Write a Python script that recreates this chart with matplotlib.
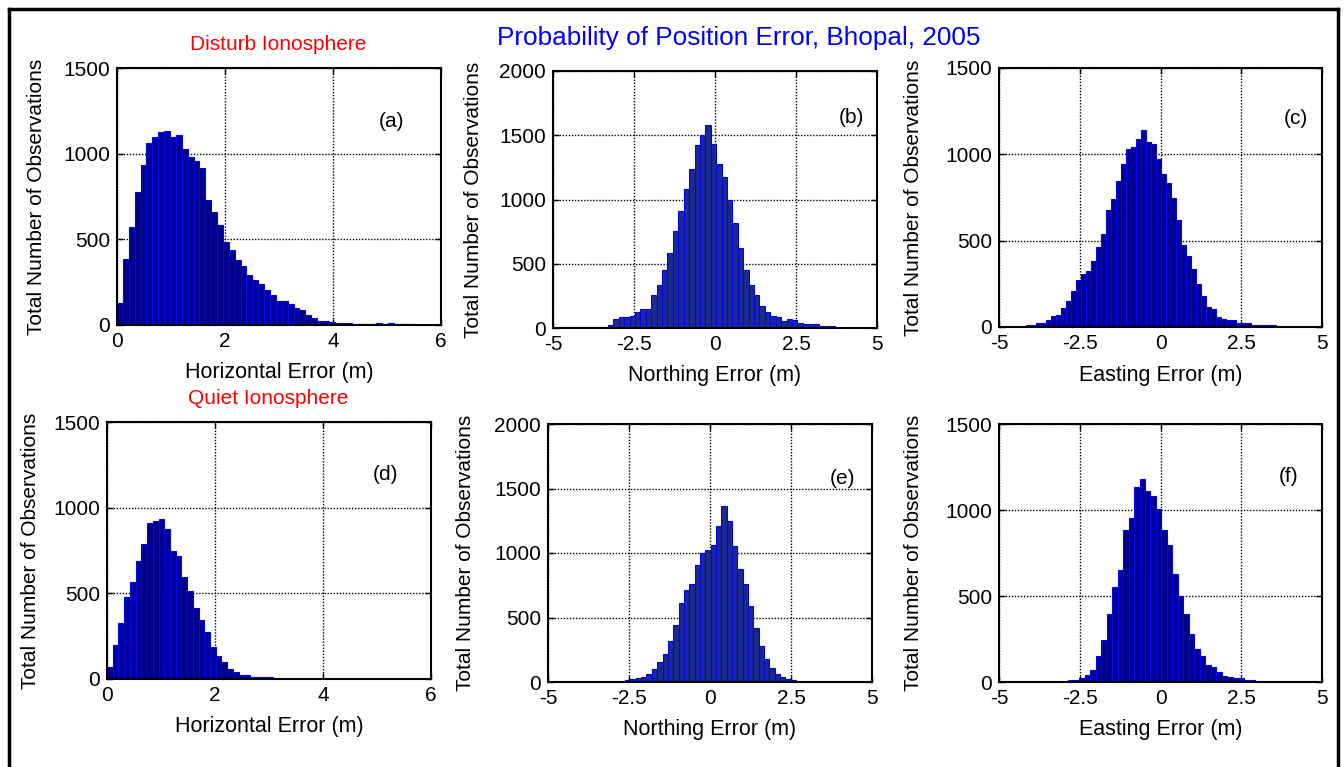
import numpy as np
import matplotlib
matplotlib.use("Agg")
import matplotlib.pyplot as plt
from matplotlib.lines import Line2D

plt.rcParams["font.family"] = ["Liberation Sans", "DejaVu Sans"]
plt.rcParams["axes.unicode_minus"] = False

# histogram counts (first bin edge, bin width, counts)
a_start, a_width = 0.0, 0.109
a_counts = [131, 384, 573, 776, 932, 1062, 1098, 1124, 1131, 1098,
            1110, 1030, 982, 957, 915, 730, 662, 583, 483, 435,
            382, 347, 290, 261, 238, 203, 178, 140, 140, 120,
            102, 89, 60, 42, 23, 23, 15, 12, 10, 10,
            8, 6, 8, 4, 10, 8, 10, 6, 5, 8]

b_start, b_width = -4.64, 0.167
b_counts = [10, 10, 10, 10, 10, 10, 10, 10, 26, 70,
            85, 85, 96, 122, 150, 150, 254, 332, 448, 583,
            751, 912, 1083, 1241, 1422, 1500, 1580, 1435, 1277, 1174,
            1000, 816, 619, 448, 332, 254, 174, 122, 96, 83,
            52, 70, 60, 39, 31, 31, 31, 13, 13, 13]

c_start, c_width = -4.17, 0.155
c_counts = [10, 10, 23, 23, 42, 62, 71, 110, 151, 208,
            270, 305, 324, 384, 463, 541, 676, 739, 846, 942,
            1031, 1042, 1091, 1139, 1073, 1062, 971, 884, 836, 747,
            618, 473, 413, 336, 247, 180, 116, 106, 58, 44,
            42, 42, 25, 23, 23, 14, 10, 10, 10, 10]

d_start, d_width = 0.0, 0.106
d_counts = [68, 196, 324, 480, 569, 689, 786, 913, 922, 934,
            876, 748, 718, 598, 511, 414, 346, 276, 186, 132,
            97, 58, 43, 25, 21, 14, 12, 10, 10, 8]

e_start, e_width = -2.62, 0.165
e_counts = [13, 26, 31, 39, 65, 103, 155, 220, 318, 444,
            612, 711, 762, 904, 1000, 1021, 1065, 1207, 1364, 1245,
            1052, 879, 762, 587, 421, 279, 181, 109, 65, 39,
            23, 13]

f_start, f_width = -2.86, 0.170
f_counts = [14, 14, 23, 43, 72, 149, 246, 397, 552, 652,
            886, 954, 1136, 1181, 1113, 1084, 1003, 886, 797, 629,
            501, 393, 277, 190, 149, 101, 87, 58, 33, 29,
            23, 23, 14, 14]

horiz_ticks = [0, 2, 4, 6]
ne_ticks = [-5, -2.5, 0, 2.5, 5]
ne_ticklabels = ["-5", "-2.5", "0", "2.5", "5"]

panels = [
    # (start, width, counts, xlim, xticks, ymax, xlabel, tag, tag_xy, rect px, face, ylabel x)
    (a_start, a_width, a_counts, (0, 6), horiz_ticks, 1500, "Horizontal Error (m)", "(a)", (5.09, 1185),
     [117, 68, 441, 325], "#00008a", -0.22),
    (b_start, b_width, b_counts, (-5, 5), ne_ticks, 2000, "Northing Error (m)", "(b)", (4.2, 1642),
     [553, 71, 877, 328], "#1c2a8c", -0.216),
    (c_start, c_width, c_counts, (-5, 5), ne_ticks, 1500, "Easting Error (m)", "(c)", (4.19, 1210),
     [999, 68, 1322, 327], "#00008a", -0.235),
    (d_start, d_width, d_counts, (0, 6), horiz_ticks, 1500, "Horizontal Error (m)", "(d)", (5.15, 1191),
     [107, 422, 431, 679], "#00008a", -0.207),
    (e_start, e_width, e_counts, (-5, 5), ne_ticks, 2000, "Northing Error (m)", "(e)", (4.1, 1581),
     [548, 424, 872, 682], "#1c2a8c", -0.225),
    (f_start, f_width, f_counts, (-5, 5), ne_ticks, 1500, "Easting Error (m)", "(f)", (3.95, 1192),
     [999, 424, 1322, 682], "#00008a", -0.235),
]

W, H = 1344, 767
fig = plt.figure(figsize=(W / 100, H / 100), dpi=100)

for start, width, counts, xlim, xticks, ymax, xlabel, tag, tag_xy, rect, face, ylab_x in panels:
    x0, y0, x1, y1 = rect
    ax = fig.add_axes([x0 / W, 1 - y1 / H, (x1 - x0) / W, (y1 - y0) / H])
    lefts = start + width * np.arange(len(counts))
    ax.bar(lefts, counts, width=width, align="edge", color=face,
           edgecolor="#0000ff", linewidth=0.8, zorder=2)
    ax.set_xlim(*xlim)
    ax.set_ylim(0, ymax)
    ax.set_xticks(xticks)
    if xlim[0] < 0:
        ax.set_xticklabels(ne_ticklabels)
    ax.set_yticks(np.arange(0, ymax + 1, 500))
    ax.grid(True, color="black", linestyle=(0, (1, 1.2)), linewidth=1.0, zorder=1)
    ax.set_axisbelow(True)
    ax.tick_params(direction="in", length=4, width=1, top=True, right=True,
                   labelsize=15, pad=5)
    for s in ax.spines.values():
        s.set_linewidth(1.5)
        s.set_zorder(3)
    ax.set_xlabel(xlabel, fontsize=15.5)
    ax.xaxis.set_label_coords(0.5, -0.145)
    ax.set_ylabel("Total Number of Observations", fontsize=15)
    ax.yaxis.set_label_coords(ylab_x, 0.5)
    ax.text(tag_xy[0], tag_xy[1], tag, fontsize=15, ha="center", va="center")

fig.text(739 / W, 1 - 38 / H, "Probability of Position Error, Bhopal, 2005",
         color="#0000ff", fontsize=18.8, ha="center", va="center")
fig.text(278 / W, 1 - 44 / H, "Disturb Ionosphere", color="#ff0000",
         fontsize=15, ha="center", va="center")
fig.text(268 / W, 1 - 398 / H, "Quiet Ionosphere", color="#ff0000",
         fontsize=15, ha="center", va="center")

# outer frame (bottom edge falls outside the picture)
for xs, ys in [([9, 9], [9, 780]), ([9, 1338], [9, 9]), ([1338, 1338], [9, 780])]:
    fig.add_artist(Line2D([x / W for x in xs], [1 - y / H for y in ys],
                          transform=fig.transFigure, color="black", linewidth=2.5))

fig.savefig("out.png", dpi=100)
